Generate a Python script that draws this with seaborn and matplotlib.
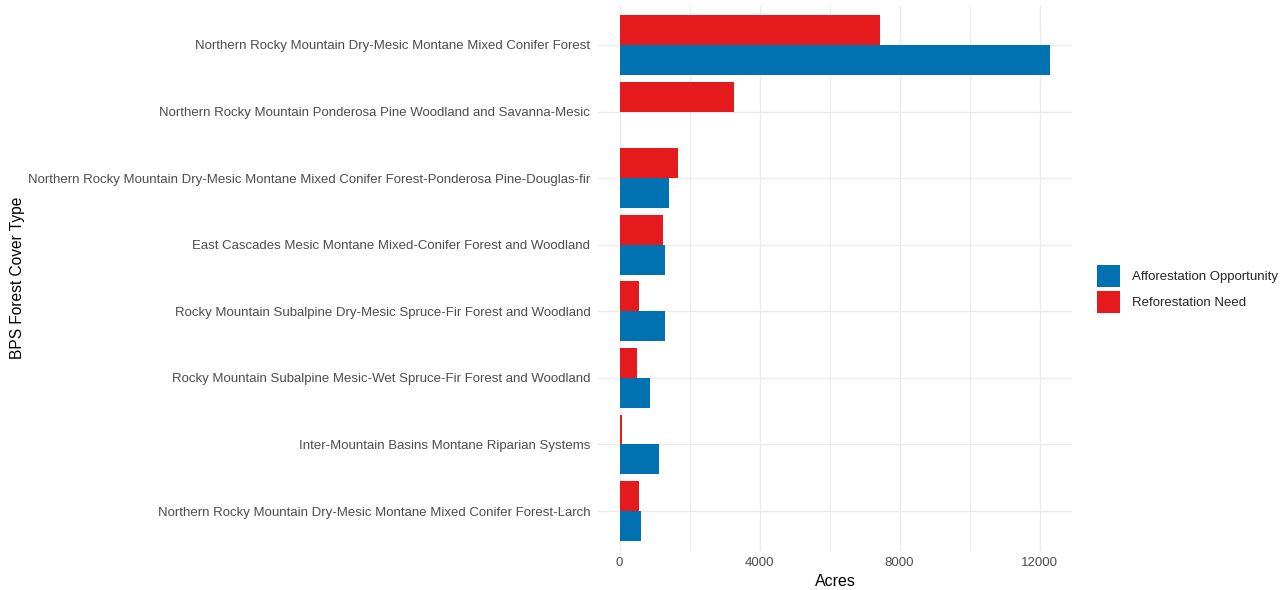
import matplotlib
matplotlib.use("Agg")
import matplotlib.pyplot as plt
from matplotlib.patches import Patch
import numpy as np
import pandas as pd
import seaborn as sns

cover_types = [
    "Northern Rocky Mountain Dry-Mesic Montane Mixed Conifer Forest",
    "Northern Rocky Mountain Ponderosa Pine Woodland and Savanna-Mesic",
    "Northern Rocky Mountain Dry-Mesic Montane Mixed Conifer Forest-Ponderosa Pine-Douglas-fir",
    "East Cascades Mesic Montane Mixed-Conifer Forest and Woodland",
    "Rocky Mountain Subalpine Dry-Mesic Spruce-Fir Forest and Woodland",
    "Rocky Mountain Subalpine Mesic-Wet Spruce-Fir Forest and Woodland",
    "Inter-Mountain Basins Montane Riparian Systems",
    "Northern Rocky Mountain Dry-Mesic Montane Mixed Conifer Forest-Larch",
]
reforestation_need = [7430, 3280, 1660, 1240, 570, 490, 80, 570]
afforestation_opportunity = [12310, np.nan, 1400, 1295, 1295, 860, 1115, 600]

series_names = ["Afforestation Opportunity", "Reforestation Need"]
series_colors = {"Afforestation Opportunity": "#0072B2", "Reforestation Need": "#E41A1C"}

df = pd.DataFrame({
    "cover": cover_types * 2,
    "type": ["Reforestation Need"] * len(cover_types) + ["Afforestation Opportunity"] * len(cover_types),
    "acres": reforestation_need + afforestation_opportunity,
})

sns.set_theme(style="whitegrid")
plt.rcParams["font.family"] = ["Liberation Sans", "DejaVu Sans"]

fig = plt.figure(figsize=(12.86, 5.90), dpi=100)
ax = fig.add_axes([598 / 1286, 1 - 551 / 590, (1072 - 598) / 1286, (551 - 5) / 590])

sns.barplot(
    data=df, y="cover", x="acres", hue="type",
    hue_order=["Reforestation Need", "Afforestation Opportunity"],
    order=cover_types, palette=series_colors, orient="h",
    width=0.9, gap=0, saturation=1, errorbar=None, ax=ax, legend=False,
    linewidth=0,
)

xmax = np.nanmax(afforestation_opportunity + reforestation_need)
pad = xmax * 0.05
ax.set_xlim(-pad, xmax + pad)
ax.set_ylim(len(cover_types) - 0.4, -0.6)
ax.set_xticks([0, 4000, 8000, 12000])
ax.set_xticks([2000, 6000, 10000], minor=True)
ax.grid(True, which="major", color="#EBEBEB", linewidth=1.0)
ax.grid(True, which="minor", axis="x", color="#EBEBEB", linewidth=0.7)
ax.set_axisbelow(True)
ax.set_facecolor("white")
for s in ax.spines.values():
    s.set_visible(False)
ax.tick_params(axis="both", which="both", length=0, labelsize=9.5, labelcolor="#4D4D4D", pad=4)
ax.tick_params(axis="y", pad=5.5)
ax.set_xlabel("Acres", fontsize=11.5, color="black", labelpad=4)
ax.set_ylabel("BPS Forest Cover Type", fontsize=11.2, color="black")
ax.yaxis.set_label_coords(-(598 - 25) / (1072 - 598), 0.5)

handles = [Patch(facecolor=series_colors[n], edgecolor="none", label=n) for n in series_names]
fig.legend(
    handles=handles, loc="center left", bbox_to_anchor=(1097 / 1286, 1 - 289 / 590),
    frameon=False, fontsize=9.5, handlelength=1.75, handleheight=2.3,
    handletextpad=0.9, labelspacing=0.23, borderaxespad=0, borderpad=0,
)

fig.savefig("out.png", dpi=100)
